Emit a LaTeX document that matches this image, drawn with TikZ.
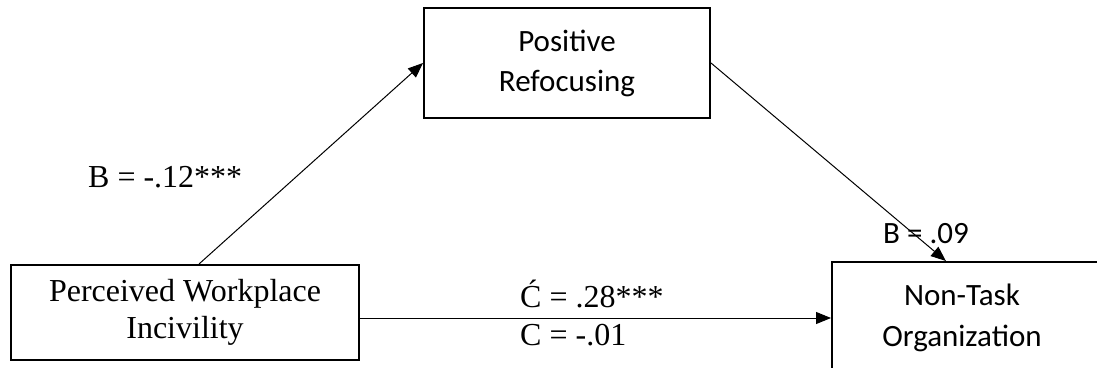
\documentclass[tikz,border=0pt]{standalone}
\usepackage{fontspec}
\setmainfont{Liberation Serif}
\newfontfamily\calfont{Carlito}
\usetikzlibrary{arrows.meta,calc}
\tikzset{
  box/.style={draw, line width=2pt, inner sep=0pt, align=center},
  times/.style={font=\fontsize{32}{37}\selectfont},
  cal/.style={font=\calfont\fontsize{31}{40}\selectfont},
  arr/.style={line width=1pt, -{Triangle[length=15pt,width=12pt]}},
  lab/.style={inner sep=0pt, anchor=base west},
}
\begin{document}
\begin{tikzpicture}[x=1pt,y=-1pt]
\useasboundingbox (0,0) rectangle (1097,367);
\clip (0,0) rectangle (1097,367);
\node[box, cal, minimum width=286pt, minimum height=110pt] (pr) at (567,63) {Positive\\Refocusing};
\node[box, times, minimum width=348pt, minimum height=95pt] (pwi) at (185,312.5) {Perceived Workplace\\Incivility};
\node[box, minimum width=269pt, minimum height=140pt, anchor=north west] (nt) at (831,261) {};
\node[cal, align=center, inner sep=0pt, font=\calfont\fontsize{31}{41}\selectfont] (ntlabel) at (962,318) {Non-Task\\Organization};
\draw[arr] ($(pwi.north west)!0.54!(pwi.north east)$) -- (pr.west);
\draw[arr] (pr.east) -- ($(nt.north west)!0.424!(nt.north east)$);
\draw[arr] ([yshift=-5.5pt]pwi.east) -- ([yshift=-5.5pt]pwi.east -| nt.west);
\node[lab, times] (b1) at (88,187) {B = -.12***};
\node[lab, times] (c1) at (520,307) {Ć = .28***};
\node[lab, times] (c2) at (520,345) {C = -.01};
\node[lab, cal] (b2) at (883,243) {B = .09};
\end{tikzpicture}
\end{document}
